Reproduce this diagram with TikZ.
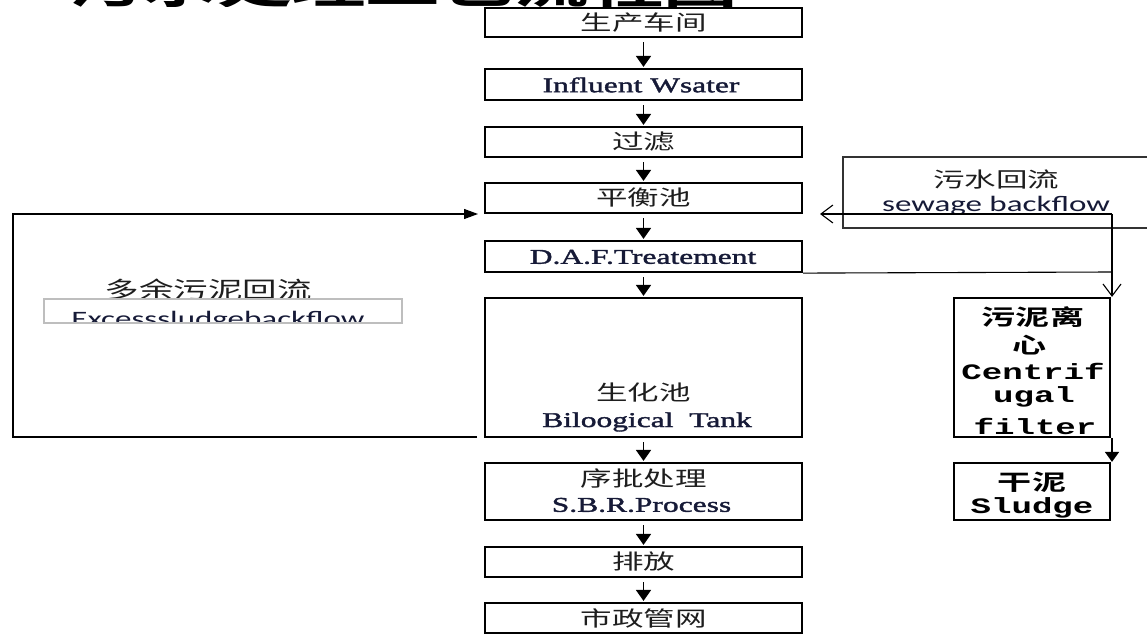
\documentclass[tikz,border=0pt]{standalone}
\usepackage{fontspec}
\usetikzlibrary{arrows.meta}
\newfontfamily\cjk{Noto Sans CJK SC}[FakeStretch=1.5]
\newfontfamily\cjkb{Noto Sans CJK SC Bold}[FakeStretch=1.55]
\newfontfamily\enserif{Liberation Serif}[FakeStretch=1.5,FakeBold=1.8]
\newfontfamily\ensans{Carlito}[FakeStretch=1.5]
\newfontfamily\enmono{Liberation Mono Bold}[FakeStretch=1.55]
\definecolor{navy}{RGB}{22,26,55}
\definecolor{cgray}{RGB}{30,30,30}
\definecolor{boxgray}{RGB}{190,190,190}
\begin{document}
\begin{tikzpicture}[x=1pt,y=-1pt,
  mainbox/.style={draw=black,line width=2.2pt,fill=white,minimum width=317pt,inner sep=0pt},
  sidebox/.style={draw=black,line width=2.2pt,fill=white,minimum width=156pt,inner sep=0pt},
  zh/.style={font=\cjk\fontsize{21}{24}\selectfont,text=cgray,inner sep=0pt},
  en/.style={font=\enserif\fontsize{21}{24}\selectfont,text=navy,inner sep=0pt},
  zhb/.style={font=\cjkb\fontsize{22}{24}\selectfont,text=black,inner sep=0pt},
  mono/.style={font=\enmono\fontsize{22}{24}\selectfont,text=black,inner sep=0pt},
  flow/.style={line width=1.8pt,-{Triangle[length=11pt,width=15pt]}},
  thin/.style={line width=1.1pt,draw=black},
  barb/.style={thin,-{Straight Barb[length=12pt,width=18pt]}},
]
\useasboundingbox (0,0) rectangle (1147,636);
\fill[white] (0,0) rectangle (1147,636);

% title (cut off at top)
\begin{scope}
  \clip (0,-100) rectangle (1147,7);
  \node[font=\cjkb\fontsize{48}{50}\selectfont,anchor=base,inner sep=0pt] (title) at (403,4) {污水处理工艺流程图};
\end{scope}

% main column
\node[mainbox,minimum height=29pt] (b1) at (643.5,22.5) {};
\node[zh] (t1) at (643.5,22.5) {生产车间};
\node[mainbox,minimum height=31pt] (b2) at (643.5,84.5) {};
\node[en] (t2) at (641,85) {Influent Wsater};
\node[mainbox,minimum height=30pt] (b3) at (643.5,142) {};
\node[zh] (t3) at (643.5,142) {过滤};
\node[mainbox,minimum height=30pt] (b4) at (643.5,198) {};
\node[zh] (t4) at (643.5,198) {平衡池};
\node[mainbox,minimum height=31pt] (b5) at (643.5,256.5) {};
\node[en] (t5) at (643,257) {D.A.F.Treatement};
\node[mainbox,minimum height=139pt] (b6) at (643.5,367.5) {};
\node[zh] (t6a) at (643.5,393) {生化池};
\node[en] (t6b) at (647,422) {Biloogical\ \ Tank};
\node[mainbox,minimum height=57pt] (b7) at (643.5,491.5) {};
\node[zh] (t7a) at (643.5,478) {序批处理};
\node[en] (t7b) at (641.5,505) {S.B.R.Process};
\node[mainbox,minimum height=30pt] (b8) at (643.5,562) {};
\node[zh] (t8) at (643.5,562) {排放};
\node[mainbox,minimum height=30pt] (b9) at (643.5,618) {};
\node[zh] (t9) at (643.5,618) {市政管网};

\foreach \a/\b in {b1/b2,b2/b3,b3/b4,b4/b5,b5/b6,b6/b7,b7/b8,b8/b9}{
  \draw[flow] ([yshift=-4pt]\a.south) -- ([yshift=1pt]\b.north);
}

% sewage backflow label box
\draw[line width=1.1pt,draw=black!80] (1150,157) -- (843,157) -- (843,228) -- (1150,228);
\node[font=\cjk\fontsize{21}{24}\selectfont,text=cgray,inner sep=0pt] (swz) at (996,180) {污水回流};
\node[font=\ensans\fontsize{22}{24}\selectfont,text=navy,inner sep=0pt] (swe) at (996,206) {sewage backflow};

% excess sludge label
\node[font=\cjk\fontsize{23}{24}\selectfont,text=cgray,inner sep=0pt] (exz) at (208,290) {多余污泥回流};
\coordinate (exa) at (44,299);
\coordinate (exb) at (402,323);
\fill[white] (exa) rectangle (exb);
\begin{scope}
  \clip (exa) rectangle (exb);
  \node[font=\ensans\fontsize{22}{24}\selectfont,text=navy,inner sep=0pt,anchor=base] (exe) at (218,326) {Excesssludgebackflow};
\end{scope}
\draw[line width=1.1pt,draw=boxgray] (exa) rectangle (exb);

% side boxes
\node[sidebox,minimum height=139pt] (c1) at (1032,367.5) {};
\node[zhb] (c1a) at (1033,317) {污泥离};
\node[zhb] (c1b) at (1030,345) {心};
\node[mono] (c1c) at (1033,371) {Centrif};
\node[mono] (c1d) at (1034,397) {ugal};
\node[mono] (c1e) at (1035,426) {filter};
\node[sidebox,minimum height=57pt] (c2) at (1032,491.5) {};
\node[zhb] (c2a) at (1032,482) {干泥};
\node[mono] (c2b) at (1032,508) {Sludge};

% right-side connectors
\coordinate (rtop) at (1112,214);
\coordinate (rdaf) at (1112,272);
\coordinate (b4in) at (820,214);
\draw[barb] (rtop) -- (b4in);
\draw[thin] (b5.south east) -- (rdaf);
\draw[barb] (rtop) -- (c1.north east -| rtop);
\draw[line width=1.6pt,-{Triangle[length=10pt,width=14pt]}] (c1.south east -| rtop) -- (c2.north east -| rtop);

% left loop
\coordinate (lb) at (13,437);
\coordinate (lt) at (13,214);
\coordinate (b6out) at (477,437);
\coordinate (b4left) at (478,214);
\draw[thin,-{Triangle[length=14pt,width=10pt]}] (b6out) -- (lb) -- (lt) -- (b4left);
\end{tikzpicture}
\end{document}
